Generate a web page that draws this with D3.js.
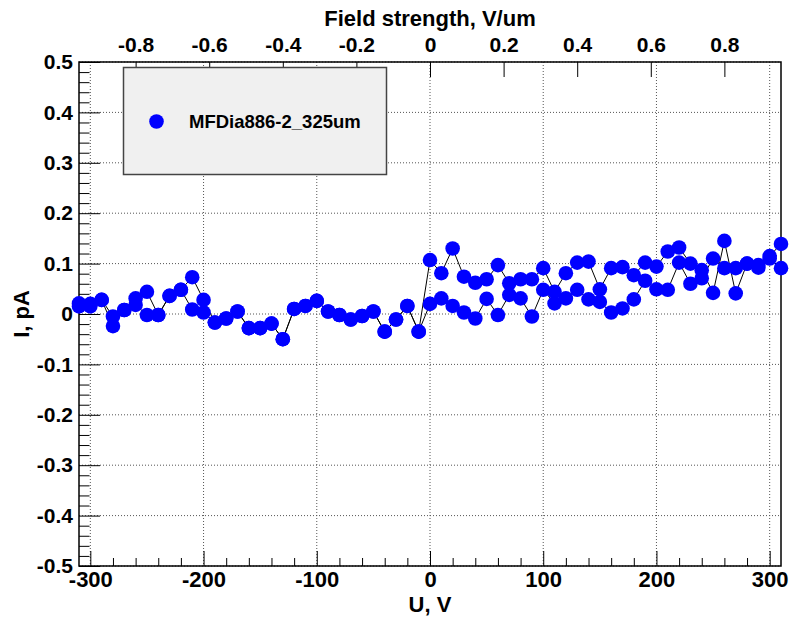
<!DOCTYPE html>
<html>
<head>
<meta charset="utf-8">
<script src="https://cdn.jsdelivr.net/npm/d3@7"></script>
<style>
  body { margin: 0; background: #fff; }
  svg { display: block; font-family: "Liberation Sans", Arial, Helvetica, sans-serif; font-weight: bold; }
</style>
</head>
<body>
<svg width="789" height="620"></svg>
<script>
(function () {

	// bias voltage, V (same steps for both sweeps)
	var voltages = [-310, -300, -290, -280, -270, -260, -250, -240, -230, -220,
		-210, -200, -190, -180, -170, -160, -150, -140, -130, -120,
		-110, -100, -90, -80, -70, -60, -50, -40, -30, -20,
		-10, 0, 10, 20, 30, 40, 50, 60, 70, 80,
		90, 100, 110, 120, 130, 140, 150, 160, 170, 180,
		190, 200, 210, 220, 230, 240, 250, 260, 270, 280,
		290, 300, 310];

	// current, pA
	var sweepA = [0.021, 0.020, 0.028, -0.005, 0.008, 0.031, 0.044, -0.002, 0.036, 0.048,
		0.073, 0.028, -0.017, -0.009, 0.005, -0.028, -0.028, -0.019, -0.050, 0.010,
		0.016, 0.026, 0.005, -0.002, -0.011, -0.004, 0.005, -0.035, -0.011, 0.016,
		-0.035, 0.107, 0.081, 0.130, 0.074, 0.062, 0.069, 0.097, 0.061, 0.069,
		0.069, 0.091, 0.044, 0.081, 0.102, 0.104, 0.049, 0.091, 0.093, 0.077,
		0.102, 0.094, 0.124, 0.132, 0.100, 0.087, 0.042, 0.145, 0.041, 0.100,
		0.097, 0.115, 0.139];

	var sweepB = [0.015, 0.015, 0.028, -0.024, 0.008, 0.018, -0.002, -0.002, 0.036, 0.048,
		0.009, 0.003, -0.017, -0.009, 0.005, -0.028, -0.028, -0.019, -0.050, 0.010,
		0.016, 0.026, 0.005, -0.002, -0.011, -0.004, 0.005, -0.035, -0.011, 0.016,
		-0.035, 0.020, 0.031, 0.016, 0.003, -0.009, 0.030, -0.002, 0.038, 0.031,
		-0.005, 0.048, 0.021, 0.031, 0.048, 0.029, 0.024, 0.003, 0.011, 0.029,
		0.066, 0.049, 0.048, 0.102, 0.060, 0.071, 0.110, 0.091, 0.091, 0.100,
		0.092, 0.110, 0.091];

	var xMajor = [-300, -200, -100, 0, 100, 200, 300];
	var yMajor = [-0.5, -0.4, -0.3, -0.2, -0.1, 0, 0.1, 0.2, 0.3, 0.4, 0.5];
	var fieldTicks = [-0.8, -0.6, -0.4, -0.2, 0, 0.2, 0.4, 0.6, 0.8];
	var thickness = 325; // um
	var legendLabel = "MFDia886-2_325um";

	var left = 79, right = 781, top = 62, bottom = 566;

	var svg = d3.select("svg");

	var x = d3.scaleLinear().domain([-310, 310]).range([left, right]);
	var y = d3.scaleLinear().domain([-0.5, 0.5]).range([bottom, top]);
	var xField = d3.scaleLinear()
		.domain([-310 / thickness, 310 / thickness])
		.range([left, right]);

	var xMinor = d3.range(-300, 301, 20).filter(function (v) { return v % 100 !== 0; });
	var yMinor = d3.range(-50, 51, 2).map(function (v) { return v / 100; })
		.filter(function (v) { return Math.round(v * 100) % 10 !== 0; });

	// ROOT style labels: plain hyphen, bare "0"
	var fmt1 = function (d) { return d === 0 ? "0" : d.toFixed(1); };
	var fmt0 = function (d) { return String(d); };

	// grid
	var grid = svg.append("g")
		.attr("stroke", "#555")
		.attr("stroke-width", 1)
		.attr("stroke-dasharray", "1,2");
	grid.selectAll("line.gx")
		.data(xMajor)
		.enter()
		.append("line")
		.attr("x1", function (d) { return x(d); })
		.attr("x2", function (d) { return x(d); })
		.attr("y1", top)
		.attr("y2", bottom);
	grid.selectAll("line.gy")
		.data(yMajor)
		.enter()
		.append("line")
		.attr("x1", left)
		.attr("x2", right)
		.attr("y1", function (d) { return y(d); })
		.attr("y2", function (d) { return y(d); });

	// bottom axis
	var bottomAxis = svg.append("g")
		.attr("transform", "translate(0," + bottom + ")")
		.call(d3.axisBottom(x).tickValues(xMajor).tickSize(-15).tickPadding(5)
			.tickFormat(fmt0));
	svg.append("g")
		.attr("transform", "translate(0," + bottom + ")")
		.call(d3.axisBottom(x).tickValues(xMinor).tickSize(-8).tickFormat(""));

	// left axis
	var leftAxis = svg.append("g")
		.attr("transform", "translate(" + left + ",0)")
		.call(d3.axisLeft(y).tickValues(yMajor).tickSize(-21).tickPadding(6)
			.tickFormat(fmt1));
	svg.append("g")
		.attr("transform", "translate(" + left + ",0)")
		.call(d3.axisLeft(y).tickValues(yMinor).tickSize(-10.5).tickFormat(""));

	// top axis (field strength)
	var topAxis = svg.append("g")
		.attr("transform", "translate(0," + top + ")")
		.call(d3.axisTop(xField).tickValues(fieldTicks).tickSize(-15).tickPadding(10)
			.tickFormat(fmt1));

	svg.selectAll(".domain").remove();
	svg.selectAll(".tick line").attr("stroke", "#000").attr("stroke-width", 1);
	[bottomAxis, leftAxis, topAxis].forEach(function (g) {
		g.selectAll("text")
			.attr("font-size", g === bottomAxis ? 22 : 21)
			.attr("fill", "#000")
			.attr("font-family", "'Liberation Sans', Arial, sans-serif")
			.attr("font-weight", "bold");
	});

	// frame
	svg.append("rect")
		.attr("x", left)
		.attr("y", top)
		.attr("width", right - left)
		.attr("height", bottom - top)
		.attr("fill", "none")
		.attr("stroke", "#000")
		.attr("stroke-width", 1.5);

	// data
	var line = d3.line()
		.x(function (d) { return x(d[0]); })
		.y(function (d) { return y(d[1]); });

	[sweepA, sweepB].forEach(function (series) {
		var pts = voltages.map(function (v, i) { return [v, series[i]]; });
		svg.append("path")
			.datum(pts)
			.attr("d", line)
			.attr("fill", "none")
			.attr("stroke", "#000")
			.attr("stroke-width", 1);
	});

	[sweepA, sweepB].forEach(function (series) {
		svg.append("g")
			.selectAll("circle")
			.data(voltages.map(function (v, i) { return [v, series[i]]; }))
			.enter()
			.append("circle")
			.attr("cx", function (d) { return x(d[0]); })
			.attr("cy", function (d) { return y(d[1]); })
			.attr("r", 7.3)
			.attr("fill", "#0000ff");
	});

	// legend
	var legend = svg.append("g");
	legend.append("rect")
		.attr("x", 123.5)
		.attr("y", 67.5)
		.attr("width", 263)
		.attr("height", 107)
		.attr("fill", "#f0f0f0")
		.attr("stroke", "#444")
		.attr("stroke-width", 1.5);
	legend.append("circle")
		.attr("cx", 156.5)
		.attr("cy", 121.5)
		.attr("r", 7.3)
		.attr("fill", "#0000ff");
	legend.append("text")
		.attr("x", 189)
		.attr("y", 128)
		.attr("font-size", 18.5)
		.text(legendLabel);

	// axis titles
	svg.append("text")
		.attr("x", (left + right) / 2)
		.attr("y", 612)
		.attr("text-anchor", "middle")
		.attr("font-size", 22)
		.text("U, V");
	svg.append("text")
		.attr("transform", "translate(29," + ((top + bottom) / 2) + ") rotate(-90)")
		.attr("text-anchor", "middle")
		.attr("font-size", 22)
		.text("I, pA");
	svg.append("text")
		.attr("x", (left + right) / 2)
		.attr("y", 26)
		.attr("text-anchor", "middle")
		.attr("font-size", 22)
		.text("Field strength, V/um");

})();
</script>
</body>
</html>
